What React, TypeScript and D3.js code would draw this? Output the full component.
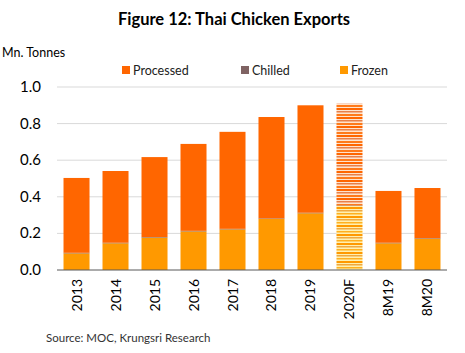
import React from "react";
import * as d3 from "d3";

const categories = ["2013", "2014", "2015", "2016", "2017", "2018", "2019", "2020F", "8M19", "8M20"];
const frozen = [0.091, 0.146, 0.177, 0.211, 0.222, 0.279, 0.31, 0.35, 0.146, 0.171];
const chilled = [0.003, 0.003, 0.003, 0.003, 0.003, 0.003, 0.003, 0.003, 0.003, 0.003];
const processed = [0.409, 0.392, 0.437, 0.475, 0.53, 0.554, 0.587, 0.557, 0.283, 0.274];
const yTicks = [0, 0.2, 0.4, 0.6, 0.8, 1.0];
const seriesNames = ["Processed", "Chilled", "Frozen"];
const colors: Record<string, string> = { Processed: "#FF6600", Chilled: "#7F6363", Frozen: "#FF9900" };

const font = "Lato, 'Open Sans', sans-serif";

export default function App() {
  const width = 465;
  const height = 353;
  const x = d3.scaleBand().domain(categories).range([57, 447]).paddingInner(0.333).paddingOuter(0.167);
  const y = d3.scaleLinear().domain([0, 1]).range([270, 87]);

  const rows = categories.map((c, i) => ({ cat: c, Frozen: frozen[i], Chilled: chilled[i], Processed: processed[i] }));
  const stack = d3.stack<any>().keys(["Frozen", "Chilled", "Processed"]);
  const layers = stack(rows);

  // forecast bar gets a striped look
  const fillFor = (key: string, cat: string) => {
    if (cat === "2020F") {
      if (key === "Frozen") return "url(#stripeFrozen)";
      if (key === "Processed") return "url(#stripeProc)";
    }
    return colors[key];
  };

  return (
    <svg width={width} height={height} style={{ position: "absolute", left: 0, top: 0, background: "#fff" }}>
      <defs>
        <pattern id="stripeProc" patternUnits="userSpaceOnUse" width="26" height="9">
          <rect width="26" height="9" fill="#FFE3CC" />
          <rect y="0" width="26" height="2" fill="#FF6600" />
          <rect y="3" width="26" height="1.5" fill="#E8804A" />
          <rect y="6" width="26" height="2" fill="#FF7A1A" />
        </pattern>
        <pattern id="stripeFrozen" patternUnits="userSpaceOnUse" width="26" height="9">
          <rect width="26" height="9" fill="#FFF0B0" />
          <rect y="0" width="26" height="2" fill="#FF9900" />
          <rect y="3" width="26" height="1.5" fill="#F0A840" />
          <rect y="6" width="26" height="1.5" fill="#FFB020" />
        </pattern>
      </defs>
      <text x={234} y={25} textAnchor="middle" fontFamily={font} fontWeight="bold" fontSize={16.5} fill="#000">
        Figure 12: Thai Chicken Exports
      </text>
      <text x={2} y={57} fontFamily={font} fontSize={12.5} fill="#000">Mn. Tonnes</text>

      {seriesNames.map((s, i) => {
        const lx = [122, 241, 340][i];
        return (
          <g key={s}>
            <rect x={lx} y={66} width={8} height={8} fill={colors[s]} />
            <text x={lx + 11} y={75} fontFamily={font} fontSize={12.5} fill="#222">{s}</text>
          </g>
        );
      })}

      {yTicks.map((t) => (
        <g key={t}>
          {t > 0 && <line x1={57} x2={447} y1={y(t)} y2={y(t)} stroke="#D9D9D9" strokeWidth={1} />}
          <text x={41} y={y(t) + 5} textAnchor="end" fontFamily={font} fontSize={15} fill="#000">
            {t.toFixed(1)}
          </text>
        </g>
      ))}

      {layers.map((layer) => (
        <g key={layer.key}>
          {layer.map((d, i) => (
            <rect
              key={categories[i]}
              x={x(categories[i])}
              y={y(d[1])}
              width={x.bandwidth()}
              height={y(d[0]) - y(d[1])}
              fill={fillFor(layer.key, categories[i])}
            />
          ))}
        </g>
      ))}

      <line x1={57} x2={447} y1={270} y2={270} stroke="#595959" strokeWidth={1} />

      {categories.map((c) => {
        const cx = (x(c) as number) + x.bandwidth() / 2;
        return (
          <text
            key={c}
            transform={`translate(${cx + 5},${279}) rotate(-90)`}
            textAnchor="end"
            fontFamily={font}
            fontSize={14}
            fill="#000"
          >
            {c}
          </text>
        );
      })}

      <text x={46} y={342} fontFamily={font} fontSize={11.5} fill="#333">Source: MOC, Krungsri Research</text>
    </svg>
  );
}
